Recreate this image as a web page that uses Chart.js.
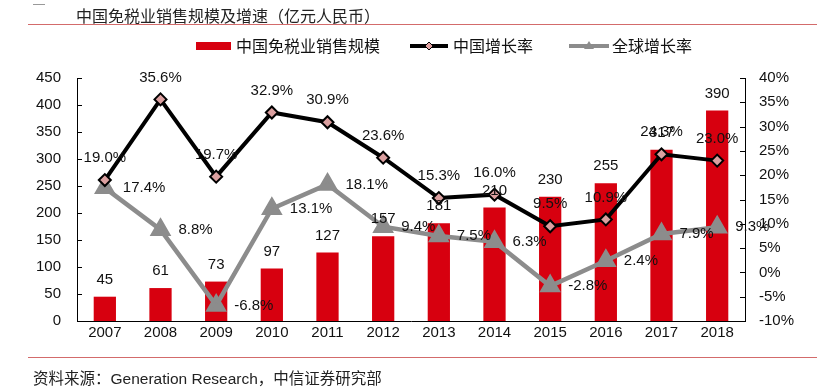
<!DOCTYPE html>
<html>
<head>
<meta charset="utf-8">
<script src="https://cdn.jsdelivr.net/npm/chart.js@4"></script>
<style>
  html, body { margin: 0; padding: 0; background: #fff; }
  #wrap { position: relative; width: 817px; height: 389px; overflow: hidden; }
  canvas { position: absolute; left: 0; top: 0; }
  .title { position: absolute; left: 76px; top: 3px; font: 16px "Noto Sans CJK SC", sans-serif; color: #222; white-space: nowrap; }
  .dash { position: absolute; left: 33px; top: 4px; width: 12px; height: 1px; background: #999; }
  .rule { position: absolute; left: 28px; right: 0; height: 1px; background: #d36b6b; }
  .src { position: absolute; left: 33px; top: 366px; font: 15.5px "Liberation Sans", "Noto Sans CJK SC", sans-serif; color: #222; white-space: nowrap; }
</style>
</head>
<body>
<div id="wrap">
  <canvas id="myChart" width="817" height="389"></canvas>
  <div class="dash"></div>
  <div class="title">中国免税业销售规模及增速（亿元人民币）</div>
  <div class="rule" style="top:24px"></div>
  <div class="rule" style="top:357px"></div>
  <div class="src">资料来源：Generation Research，中信证券研究部</div>
</div>
<script>
var years = ['2007','2008','2009','2010','2011','2012','2013','2014','2015','2016','2017','2018'];
var salesScale = [45, 61, 73, 97, 127, 157, 181, 210, 230, 255, 317, 390];
var chinaGrowth = [19.0, 35.6, 19.7, 32.9, 30.9, 23.6, 15.3, 16.0, 9.5, 10.9, 24.3, 23.0];
var globalGrowth = [17.4, 8.8, -6.8, 13.1, 18.1, 9.4, 7.5, 6.3, -2.8, 2.4, 7.9, 9.3];
var seriesNames = ['中国免税业销售规模', '中国增长率', '全球增长率'];

var RED = '#d7000f';
var GRAY = '#8c8c8c';
var FONT = '"Liberation Sans", Arial, sans-serif';
var CJK = '"Noto Sans CJK SC", sans-serif';

// data labels + inward ticks + legend
var extras = {
  id: 'extras',
  afterDatasetsDraw: function(chart) {
    var ctx = chart.ctx;
    ctx.save();
    ctx.font = '15px ' + FONT;
    ctx.fillStyle = '#111';
    ctx.textBaseline = 'middle';
    // bar values (dataset 2)
    chart.getDatasetMeta(2).data.forEach(function(el, i) {
      ctx.textAlign = 'center';
      ctx.fillText(String(salesScale[i]), el.x, el.y - 17);
    });
    // china growth above (dataset 0)
    chart.getDatasetMeta(0).data.forEach(function(el, i) {
      ctx.textAlign = 'center';
      ctx.fillText(chinaGrowth[i].toFixed(1) + '%', el.x, el.y - 22);
    });
    // global growth right (dataset 1)
    chart.getDatasetMeta(1).data.forEach(function(el, i) {
      ctx.textAlign = 'left';
      ctx.fillText(globalGrowth[i].toFixed(1) + '%', el.x + 18, el.y);
    });

    // inward tick marks
    var a = chart.chartArea;
    var yl = chart.scales.y, yr = chart.scales.y1;
    ctx.strokeStyle = '#000';
    ctx.lineWidth = 1;
    yl.ticks.forEach(function(t) {
      var py = Math.round(yl.getPixelForValue(t.value)) + 0.5;
      ctx.beginPath(); ctx.moveTo(a.left, py); ctx.lineTo(a.left + 5, py); ctx.stroke();
    });
    yr.ticks.forEach(function(t) {
      var py = Math.round(yr.getPixelForValue(t.value)) + 0.5;
      ctx.beginPath(); ctx.moveTo(a.right, py); ctx.lineTo(a.right - 5, py); ctx.stroke();
    });

    // legend
    var ly = 46;
    ctx.font = '16px ' + CJK;
    ctx.textAlign = 'left';
    ctx.fillStyle = RED;
    ctx.fillRect(196, ly - 4, 35, 8);
    ctx.fillStyle = '#111';
    ctx.fillText(seriesNames[0], 236, ly);

    ctx.strokeStyle = '#000';
    ctx.lineWidth = 4;
    ctx.beginPath(); ctx.moveTo(410, ly); ctx.lineTo(448, ly); ctx.stroke();
    ctx.fillStyle = '#e3a3a3';
    ctx.lineWidth = 1;
    ctx.beginPath();
    ctx.moveTo(429, ly - 4); ctx.lineTo(433, ly); ctx.lineTo(429, ly + 4); ctx.lineTo(425, ly);
    ctx.closePath(); ctx.fill(); ctx.stroke();
    ctx.fillStyle = '#111';
    ctx.fillText(seriesNames[1], 453, ly);

    ctx.strokeStyle = GRAY;
    ctx.lineWidth = 4;
    ctx.beginPath(); ctx.moveTo(569, ly); ctx.lineTo(609, ly); ctx.stroke();
    ctx.fillStyle = GRAY;
    ctx.beginPath();
    ctx.moveTo(589, ly - 5); ctx.lineTo(594, ly + 3); ctx.lineTo(584, ly + 3);
    ctx.closePath(); ctx.fill();
    ctx.fillStyle = '#111';
    ctx.fillText(seriesNames[2], 612, ly);
    ctx.restore();
  }
};

var ctx = document.getElementById('myChart');
var myChart = new Chart(ctx, {
  type: 'bar',
  data: {
    labels: years,
    datasets: [{
      type: 'line',
      label: seriesNames[1],
      data: chinaGrowth,
      yAxisID: 'y1',
      borderColor: '#000',
      borderWidth: 4,
      pointStyle: 'rectRot',
      pointRadius: 6,
      pointBackgroundColor: '#dba0a0',
      pointBorderColor: '#000',
      pointBorderWidth: 2,
      tension: 0,
      order: 1
    }, {
      type: 'line',
      label: seriesNames[2],
      data: globalGrowth,
      yAxisID: 'y1',
      borderColor: GRAY,
      borderWidth: 4.5,
      pointStyle: 'triangle',
      pointRadius: 8,
      pointBackgroundColor: GRAY,
      pointBorderColor: GRAY,
      tension: 0,
      order: 2
    }, {
      type: 'bar',
      label: seriesNames[0],
      data: salesScale,
      yAxisID: 'y',
      backgroundColor: RED,
      barPercentage: 0.4,
      categoryPercentage: 1,
      order: 3
    }]
  },
  options: {
    responsive: false,
    animation: false,
    layout: { padding: { top: 78, right: 0, left: 0, bottom: 0 } },
    plugins: { legend: { display: false }, tooltip: { enabled: false } },
    scales: {
      x: {
        grid: { display: false, drawTicks: false },
        border: { color: '#000', width: 1 },
        ticks: { color: '#111', font: { family: FONT, size: 15 }, padding: 3 },
        afterFit: function(s) { s.height = 68; }
      },
      y: {
        position: 'left',
        min: 0, max: 450,
        ticks: { stepSize: 50, color: '#111', font: { family: FONT, size: 15 }, padding: 16 },
        grid: { display: false, drawTicks: false },
        border: { color: '#000', width: 1 },
        afterFit: function(s) { s.width = 77; }
      },
      y1: {
        position: 'right',
        min: -10, max: 40,
        ticks: { stepSize: 5, color: '#111', font: { family: FONT, size: 15 }, padding: 14,
          callback: function(v) { return v + '%'; } },
        grid: { display: false, drawTicks: false },
        border: { color: '#000', width: 1 },
        afterFit: function(s) { s.width = 72; }
      }
    }
  },
  plugins: [extras]
});
</script>
</body>
</html>
